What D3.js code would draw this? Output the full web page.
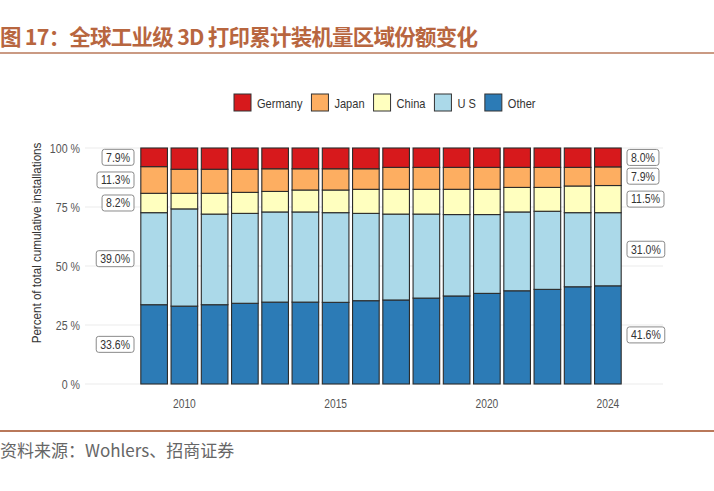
<!DOCTYPE html>
<html>
<head>
<meta charset="utf-8">
<script src="https://cdn.jsdelivr.net/npm/d3@7"></script>
<style>
  body { margin: 0; background: #fff; }
  svg { display: block; }
</style>
</head>
<body>
<div class="customChart"></div>
<script>
// data (percent of cumulative installations)
const years = [2009, 2010, 2011, 2012, 2013, 2014, 2015, 2016, 2017, 2018, 2019, 2020, 2021, 2022, 2023, 2024];
const germany = [7.9, 9.0, 9.0, 9.0, 8.8, 8.8, 8.8, 8.8, 8.2, 8.2, 8.2, 8.2, 8.2, 8.2, 8.2, 8.0];
const japan = [11.3, 10.2, 10.2, 9.8, 9.6, 9.0, 9.0, 8.7, 9.3, 9.3, 9.3, 9.3, 8.5, 8.5, 7.9, 7.9];
const china = [8.2, 6.6, 8.8, 8.9, 8.7, 9.3, 9.6, 10.2, 10.5, 10.5, 10.7, 10.7, 10.4, 10.1, 11.3, 11.5];
const us = [39.0, 41.2, 38.4, 38.1, 38.2, 38.2, 38.0, 37.0, 36.4, 35.6, 34.5, 33.4, 33.4, 33.1, 31.4, 31.0];
const other = [33.6, 33.0, 33.6, 34.2, 34.7, 34.7, 34.6, 35.3, 35.6, 36.4, 37.3, 38.4, 39.5, 40.1, 41.2, 41.6];

const keys = ["Other", "US", "China", "Japan", "Germany"];
const legendKeys = ["Germany", "Japan", "China", "US", "Other"];
const legendNames = {Germany: "Germany", Japan: "Japan", China: "China", US: "U S", Other: "Other"};
const yTicks = [0, 25, 50, 75, 100];
const xTicks = [2010, 2015, 2020, 2024];

const colors = {Germany: "#d7191c", Japan: "#fdae61", China: "#ffffbf", US: "#abd9e9", Other: "#2c7bb6"};
const series = {Germany: germany, Japan: japan, China: china, US: us, Other: other};

const data = years.map((y, i) => {
  const row = {year: y};
  keys.forEach(k => row[k] = series[k][i]);
  return row;
});

const W = 714, H = 491;
const sans = "'Liberation Sans', Arial, sans-serif";
const cjk = "'Noto Sans CJK SC', 'Noto Sans', sans-serif";

// the chart text in the picture is squeezed sideways, fake it with textLength
function squeeze(sel, k) {
  sel.each(function() {
    const w = this.getComputedTextLength();
    d3.select(this)
      .attr("textLength", w * k)
      .attr("lengthAdjust", "spacingAndGlyphs");
  });
}

const svg = d3.select('.customChart')
  .append('svg')
  .attr('width', W)
  .attr('height', H);

svg.append("rect").attr("width", W).attr("height", H).attr("fill", "#fff");

// title + rules
svg.append("text")
  .attr("x", 0)
  .attr("y", 45)
  .attr("font-family", cjk)
  .attr("font-size", 21.5)
  .attr("font-weight", "bold")
  .attr("fill", "#b8663f")
  .attr("textLength", 478)
  .attr("lengthAdjust", "spacing")
  .text("图 17：全球工业级 3D 打印累计装机量区域份额变化");

svg.append("line")
  .attr("x1", 0).attr("x2", W)
  .attr("y1", 53).attr("y2", 53)
  .attr("stroke", "#b9785a")
  .attr("stroke-width", 1.5);

svg.append("line")
  .attr("x1", 0).attr("x2", W)
  .attr("y1", 431).attr("y2", 431)
  .attr("stroke", "#b9785a")
  .attr("stroke-width", 2);

svg.append("text")
  .attr("x", 0)
  .attr("y", 457)
  .attr("font-family", cjk)
  .attr("font-size", 17)
  .attr("fill", "#666")
  .text("资料来源：Wohlers、招商证券");

// scales
const xScale = d3.scaleBand()
  .domain(years)
  .range([139, 623])
  .paddingInner(0.12)
  .paddingOuter(0.06);

const yScale = d3.scaleLinear()
  .domain([0, 100])
  .range([384, 148]);

// grid
svg.append("g")
  .selectAll("line")
  .data(yTicks)
  .join("line")
  .attr("x1", 85)
  .attr("x2", 663)
  .attr("y1", d => yScale(d))
  .attr("y2", d => yScale(d))
  .attr("stroke", "#ebebeb")
  .attr("stroke-width", 1);

// y axis labels
const yAxis = d3.axisLeft(yScale)
  .tickValues(yTicks)
  .tickSize(0)
  .tickPadding(0)
  .tickFormat(d => d + " %");

const leftAxis = svg.append("g")
  .attr("transform", "translate(80,0)")
  .call(yAxis);
leftAxis.select(".domain").remove();
leftAxis.selectAll("text")
  .attr("font-family", sans)
  .attr("font-size", 12.5)
  .attr("fill", "#555")
  .call(squeeze, 0.85);

svg.append("text")
  .attr("transform", "translate(41,243) rotate(-90)")
  .attr("text-anchor", "middle")
  .attr("font-family", sans)
  .attr("font-size", 13.5)
  .attr("fill", "#333")
  .text("Percent of total cumulative installations")
  .call(squeeze, 0.86);

// x axis
const xAxis = d3.axisBottom(xScale)
  .tickValues(xTicks)
  .tickSize(0)
  .tickPadding(15);

const bottomAxis = svg.append("g")
  .attr("transform", "translate(0,384)")
  .call(xAxis);
bottomAxis.select(".domain").remove();
bottomAxis.selectAll("text")
  .attr("font-family", sans)
  .attr("font-size", 12.5)
  .attr("fill", "#555")
  .call(squeeze, 0.82);

// stacked bars
const stacked = d3.stack().keys(keys)(data);

svg.append("g")
  .selectAll("g")
  .data(stacked)
  .join("g")
  .attr("fill", d => colors[d.key])
  .selectAll("rect")
  .data(d => d)
  .join("rect")
  .attr("x", d => xScale(d.data.year))
  .attr("y", d => yScale(d[1]))
  .attr("width", xScale.bandwidth())
  .attr("height", d => yScale(d[0]) - yScale(d[1]))
  .attr("stroke", "#2b2b2b")
  .attr("stroke-width", 1.1);

// boxed percentage labels at first and last year
function boxLabels(idx, anchorX, side) {
  const g = svg.append("g");
  stacked.forEach(s => {
    const d = s[idx];
    const cy = yScale((d[0] + d[1]) / 2);
    const lg = g.append("g");
    const t = lg.append("text")
      .attr("font-family", sans)
      .attr("font-size", 12.5)
      .attr("fill", "#333")
      .attr("dy", "0.35em")
      .attr("y", cy)
      .text(d3.format(".1f")(d[1] - d[0]) + "%")
      .call(squeeze, 0.84);
    const w = +t.attr("textLength");
    const bw = w + 8;
    const bx = side === "left" ? anchorX - bw : anchorX;
    t.attr("x", bx + 4);
    lg.insert("rect", "text")
      .attr("x", bx)
      .attr("y", cy - 8)
      .attr("width", bw)
      .attr("height", 16)
      .attr("rx", 2.5)
      .attr("fill", "#fff")
      .attr("stroke", "#8a8a8a")
      .attr("stroke-width", 1);
  });
}
boxLabels(0, 134, "left");
boxLabels(years.length - 1, 627, "right");

// legend
const legend = svg.append("g").attr("transform", "translate(234,94)");
let lx = 0;
legendKeys.forEach(k => {
  const item = legend.append("g").attr("transform", `translate(${lx},0)`);
  item.append("rect")
    .attr("width", 17)
    .attr("height", 17)
    .attr("fill", colors[k])
    .attr("stroke", "#333")
    .attr("stroke-width", 1);
  const t = item.append("text")
    .attr("x", 23)
    .attr("y", 9)
    .attr("dy", "0.35em")
    .attr("font-family", sans)
    .attr("font-size", 13)
    .attr("fill", "#333")
    .text(legendNames[k])
    .call(squeeze, 0.85);
  lx += 23 + (+t.attr("textLength")) + 9;
});
</script>
</body>
</html>
